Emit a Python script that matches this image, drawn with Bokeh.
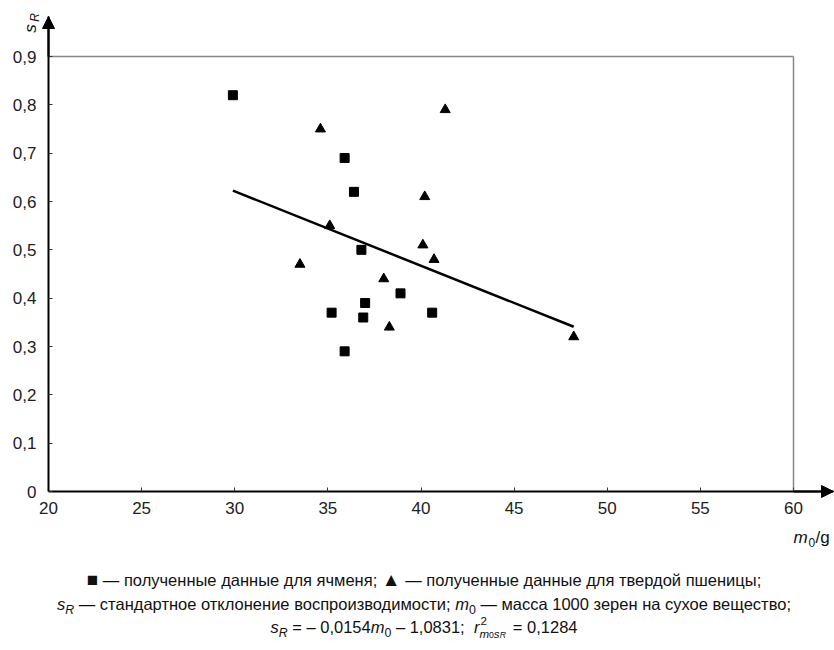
import numpy as np
from bokeh.plotting import figure
from bokeh.models import Arrow, NormalHead, Label, Div, FixedTicker, Range1d, LinearAxis
from bokeh.layouts import column
from bokeh.embed import file_html
from bokeh.resources import INLINE

# --- data ---
barley_m0 = [29.9, 35.9, 36.4, 36.8, 35.2, 37.0, 36.9, 38.9, 40.6, 35.9]
barley_sR = [0.82, 0.69, 0.62, 0.50, 0.37, 0.39, 0.36, 0.41, 0.37, 0.29]
wheat_m0 = [34.6, 41.3, 40.2, 35.1, 40.1, 40.7, 33.5, 38.0, 38.3, 48.2]
wheat_sR = [0.75, 0.79, 0.61, 0.55, 0.51, 0.48, 0.47, 0.44, 0.34, 0.32]
fit_slope = -0.0154
fit_intercept = 1.0831

x_ticks = [20, 25, 30, 35, 40, 45, 50, 55, 60]
x_tick_labels = ["20", "25", "30", "35", "40", "45", "50", "55", "60"]
y_ticks = [0, 0.1, 0.2, 0.3, 0.4, 0.5, 0.6, 0.7, 0.8, 0.9]
y_tick_labels = ["0", "0,1", "0,2", "0,3", "0,4", "0,5", "0,6", "0,7", "0,8", "0,9"]

SUB = "<span style='font-size:75%;vertical-align:-0.35em;line-height:0'>{}</span>"
sR = "<i>s</i>" + SUB.format("<i>R</i>")
m0 = "<i>m</i>" + SUB.format("0")
r2 = ("<i>r</i><span style='position:relative;display:inline-block;width:1.75em;height:1em'>"
      "<span style='position:absolute;left:1px;top:-0.55em;font-size:70%'>2</span>"
      "<span style='position:absolute;left:0;top:0.55em;font-size:70%;white-space:nowrap'>"
      "<i>m</i><span style='font-size:75%'>0</span><i>s</i><span style='font-size:75%'><i>R</i></span>"
      "</span></span>")

caption_line1 = ("<span style='font-size:115%'>&#9632;</span> &mdash; полученные данные для ячменя; "
                 "<span style='font-size:115%'>&#9650;</span> &mdash; полученные данные для твердой пшеницы;")
caption_line2 = (sR + " &mdash; стандартное отклонение воспроизводимости; "
                 + m0 + " &mdash; масса 1000 зерен на сухое вещество;")
caption_line3 = (sR + " = &ndash; 0,0154" + m0 + " &ndash; 1,0831;&nbsp; " + r2 + " = 0,1284")

FONT = "Liberation Sans"

W, H = 834, 560
px_x = 18.625     # pixels per unit of m0
px_y = 483.3      # pixels per unit of sR
x0_px, y0_px = 48, 491
x_start = 20 - x0_px / px_x
x_stop = 20 + (W - x0_px) / px_x
y_start = -(H - y0_px) / px_y
y_stop = y0_px / px_y
x_tip = 20 + (833 - x0_px) / px_x
y_tip = (y0_px - 16) / px_y

p = figure(width=W, height=H, output_backend="svg", toolbar_location=None,
           x_range=Range1d(x_start, x_stop), y_range=Range1d(y_start, y_stop),
           x_axis_location=None, y_axis_location=None, min_border=0)
p.outline_line_color = None
p.grid.visible = False

xaxis = LinearAxis(fixed_location=0, bounds=(20, x_tip))
yaxis = LinearAxis(fixed_location=20, bounds=(0, y_tip))
p.add_layout(xaxis, "below")
p.add_layout(yaxis, "left")

for ax, ticks, labels in ((xaxis, x_ticks, x_tick_labels), (yaxis, y_ticks, y_tick_labels)):
    ax.ticker = FixedTicker(ticks=ticks)
    ax.major_label_overrides = {t: l for t, l in zip(ticks, labels)}
    ax.minor_tick_line_color = None
    ax.major_tick_in = 4
    ax.major_tick_out = 0
    ax.major_tick_line_color = "#333333"
    ax.axis_line_width = 2
    ax.axis_line_color = "black"
    ax.major_label_text_font = FONT
    ax.major_label_text_font_size = "17px"
    ax.major_label_text_color = "#222222"
xaxis.major_label_standoff = 10
yaxis.major_label_standoff = 12

# frame lines at top and right
p.segment(x0=[x_ticks[0], x_ticks[-1]], y0=[y_ticks[-1], y_ticks[0]],
          x1=[x_ticks[-1], x_ticks[-1]], y1=[y_ticks[-1], y_ticks[-1]],
          line_color="#888888", line_width=1.5)

# arrows
p.add_layout(Arrow(end=NormalHead(size=12, fill_color="black", line_color="black"),
                   x_start=x_ticks[-1], y_start=0, x_end=x_tip, y_end=0, line_width=2))
p.add_layout(Arrow(end=NormalHead(size=12, fill_color="black", line_color="black"),
                   x_start=20, y_start=y_ticks[-1], x_end=20, y_end=y_tip, line_width=2))

# regression line
all_m0 = barley_m0 + wheat_m0
xf = np.array([min(all_m0), max(all_m0)])
p.line(xf, fit_slope * xf + fit_intercept, line_color="black", line_width=2.5)

p.scatter(barley_m0, barley_sR, marker="square", size=9, fill_color="black", line_color="black")
p.scatter(wheat_m0, wheat_sR, marker="triangle", size=10, fill_color="black", line_color="black")

# axis titles
def lab(x, y, text, size, style="italic", angle=0, align="left", baseline="middle"):
    p.add_layout(Label(x=x, y=y, text=text, text_font=FONT, text_font_size=size,
                       text_font_style=style, angle=angle, text_align=align,
                       text_baseline=baseline, text_color="#111111"))

def dx(px):
    return 20 + (px - x0_px) / px_x

def dy(py):
    return (y0_px - py) / px_y

lab(dx(30), dy(28), "s", "17px", angle=np.pi / 2, align="center")
lab(dx(34.5), dy(17), "R", "12px", angle=np.pi / 2, align="center")

lab(dx(793), dy(537), "m", "17px")
lab(dx(808), dy(542), "0", "12px", style="normal")
lab(dx(815), dy(537), "/g", "17px", style="normal")

div = Div(text=(f"<div style='white-space:nowrap'>{caption_line1}</div>"
                f"<div style='white-space:nowrap'>{caption_line2}</div>"
                f"<div style='white-space:nowrap'>{caption_line3}</div>"),
          width=W, height=86,
          styles={"font-family": FONT, "font-size": "16.5px", "text-align": "center",
                  "line-height": "23.5px", "color": "#111111", "padding-top": "3px",
                  "padding-left": "4px", "box-sizing": "border-box"})

layout = column(p, div, spacing=0)
open("out.html", "w").write(file_html(layout, INLINE))
